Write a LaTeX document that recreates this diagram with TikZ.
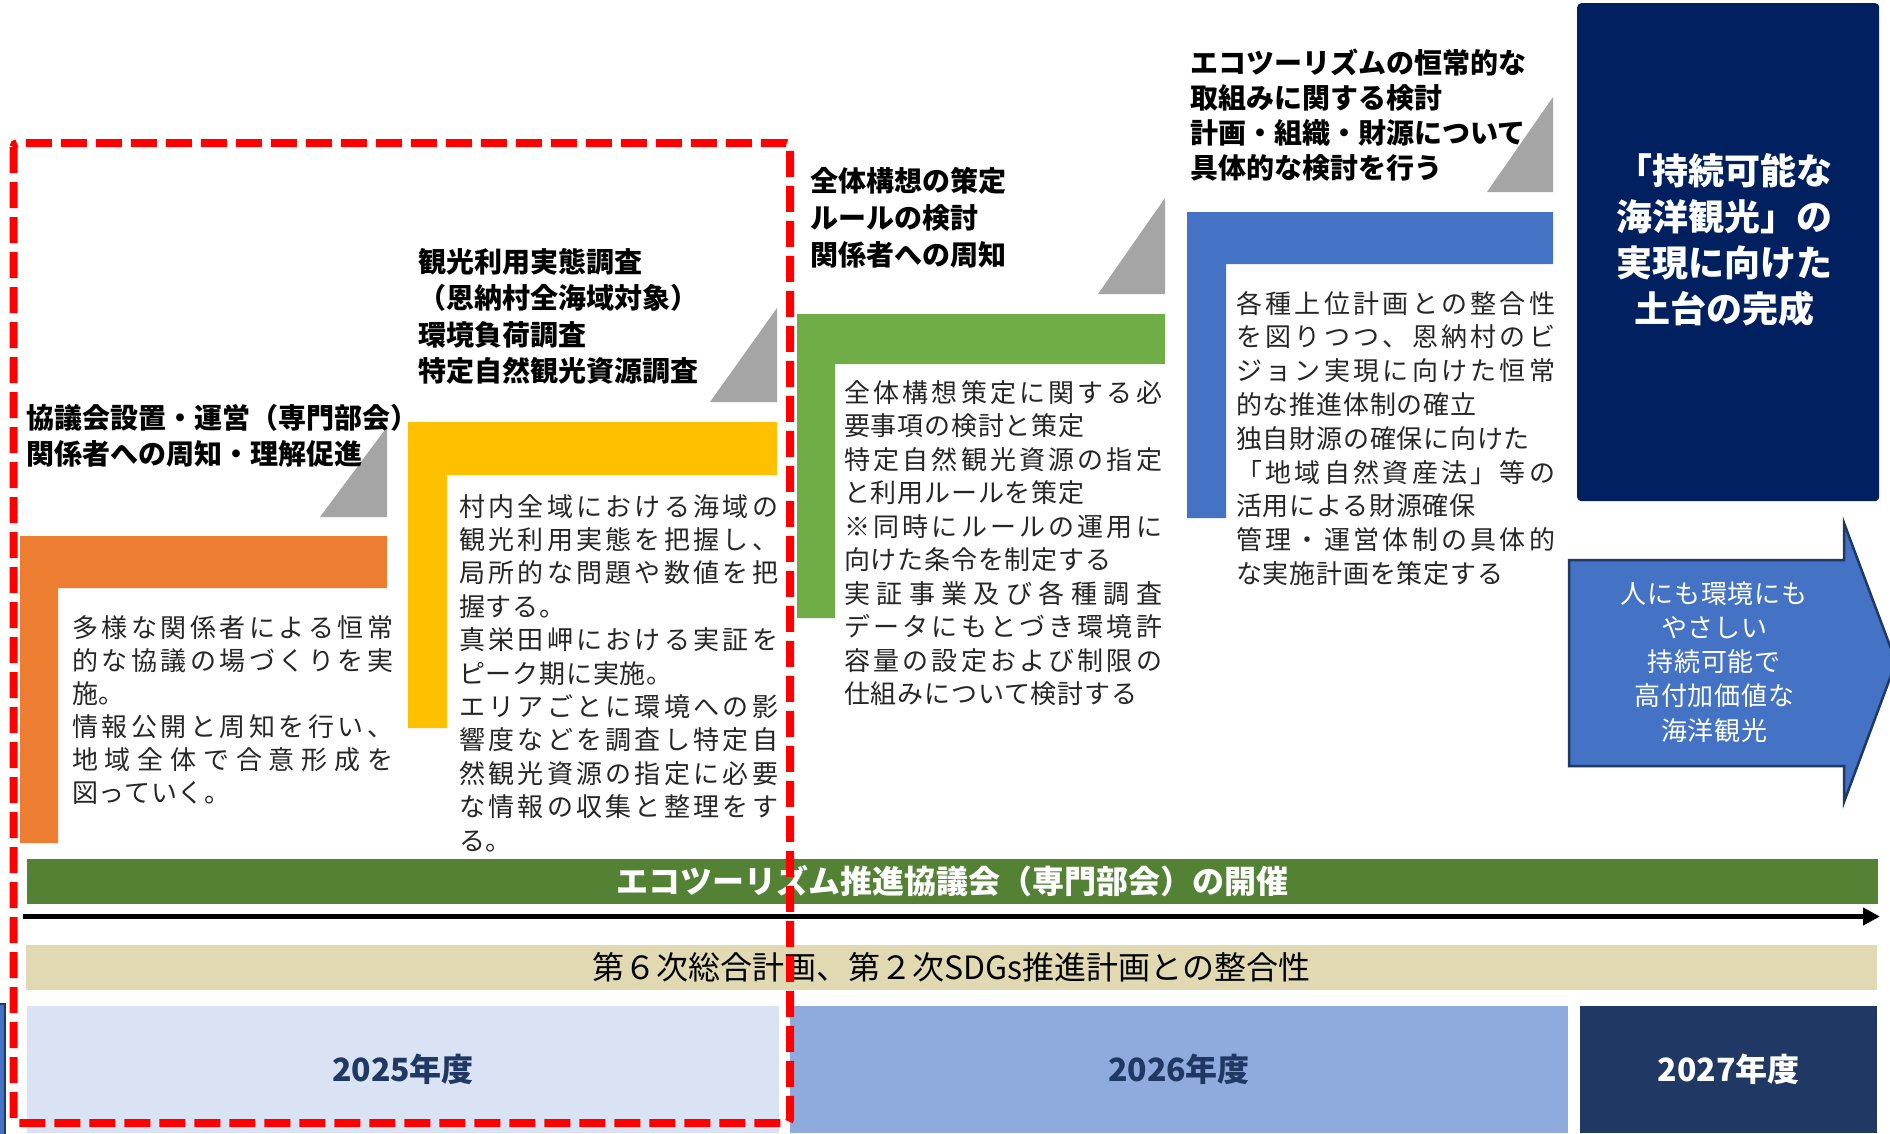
\documentclass[tikz,border=0pt]{standalone}
\usepackage{fontspec}
\newfontfamily\jp{Noto Sans CJK JP}
\newfontfamily\jpb[LetterSpace=3]{Noto Sans CJK JP}
\usetikzlibrary{arrows.meta}
\definecolor{cOrange}{HTML}{ED7D31}
\definecolor{cYellow}{HTML}{FFC000}
\definecolor{cGreenL}{HTML}{70AD47}
\definecolor{cBlueL}{HTML}{4472C4}
\definecolor{cTri}{HTML}{A5A5A5}
\definecolor{cNavy}{HTML}{002060}
\definecolor{cNavyLine}{HTML}{1F3864}
\definecolor{cBar}{HTML}{548235}
\definecolor{cBeige}{HTML}{E0D9B1}
\definecolor{cY25}{HTML}{DAE3F3}
\definecolor{cY26}{HTML}{8FAADC}
\definecolor{cY27}{HTML}{203864}
\definecolor{cBody}{HTML}{262626}
\definecolor{cRed}{HTML}{FF0000}
% justified line helpers
\let\JSend\relax
\def\JSp#1{\ifx\JSend#1\else\hskip 0pt plus 1fil\relax#1\expandafter\JSp\fi}
\def\JSfirst#1{#1\JSp}
\newdimen\jw
\newcommand\J[1]{\hbox to \jw{\JSfirst#1\JSend}}
\newcommand\N[1]{\hbox{#1}}
\newcommand\C[1]{\hbox to \jw{\hss#1\hss}}
\newcommand\blk[2]{\vtop{\baselineskip=#1\lineskiplimit=-1000pt\lineskip=0pt\relax#2}}
\begin{document}
\begin{tikzpicture}[x=1pt,y=-1pt,
  tri/.style={fill=cTri},
  titletext/.style={anchor=base west, inner sep=0pt, text=black, font=\jp\bfseries\fontsize{28pt}{36pt}\selectfont},
  bodytext/.style={anchor=base west, inner sep=0pt, text=cBody, font=\jpb\fontsize{26pt}{33.5pt}\selectfont},
  bar/.style={inner sep=0pt, minimum width=1851pt, minimum height=45pt},
  yearbox/.style={inner sep=0pt, minimum height=127pt, font=\jp\bfseries\fontsize{32pt}{36pt}\selectfont},
  reddash/.style={draw=cRed, line width=8pt, dash pattern=on 26pt off 9pt, rounded corners=4pt}
]
\clip (0,0) rectangle (1890,1133);
\fill[white] (0,0) rectangle (1890,1133);

% ---- L shapes ----
\fill[cOrange] (20,536) -- (387,536) -- (387,588) -- (58,588) -- (58,843) -- (20,843) -- cycle;
\fill[cYellow] (408,422) -- (777,422) -- (777,475) -- (447,475) -- (447,728) -- (408,728) -- cycle;
\fill[cGreenL] (797,314) -- (1165,314) -- (1165,364) -- (835,364) -- (835,618) -- (797,618) -- cycle;
\fill[cBlueL] (1187,212) -- (1553,212) -- (1553,264) -- (1226,264) -- (1226,518) -- (1187,518) -- cycle;

% ---- gray triangles ----
\fill[tri] (387,427) -- (387,517) -- (320,517) -- cycle;
\fill[tri] (777,308) -- (777,402) -- (710,402) -- cycle;
\fill[tri] (1165,198) -- (1165,294) -- (1098,294) -- cycle;
\fill[tri] (1553,97) -- (1553,192) -- (1487,192) -- cycle;

% ---- titles ----
\node[titletext] (t1) at (26,428) {\blk{36pt}{\N{協議会設置・運営（専門部会）}\N{関係者への周知・理解促進}}};
\node[titletext] (t2) at (418,272) {\blk{36.6pt}{\N{観光利用実態調査}\N{（恩納村全海域対象）}\N{環境負荷調査}\N{特定自然観光資源調査}}};
\node[titletext] (t3) at (810,191) {\blk{37pt}{\N{全体構想の策定}\N{ルールの検討}\N{関係者への周知}}};
\node[titletext] (t4) at (1190,73) {\blk{35pt}{\N{エコツーリズムの恒常的な}\N{取組みに関する検討}\N{計画・組織・財源について}\N{具体的な検討を行う}}};

% ---- body texts ----
\node[bodytext] (b1) at (72,637) {\jw=321pt\blk{33pt}{%
\J{多様な関係者による恒常}\J{的な協議の場づくりを実}\N{施。}%
\J{情報公開と周知を行い、}\J{地域全体で合意形成を}\N{図っていく。}}};
\node[bodytext] (b2) at (459,516) {\jw=319pt\blk{33.4pt}{%
\J{村内全域における海域の}\J{観光利用実態を把握し、}\J{局所的な問題や数値を把}\N{握する。}%
\J{真栄田岬における実証を}\N{ピーク期に実施。}%
\J{エリアごとに環境への影}\J{響度などを調査し特定自}\J{然観光資源の指定に必要}\J{な情報の収集と整理をす}\N{る。}}};
\node[bodytext] (b3) at (844,402) {\jw=318pt\blk{33.5pt}{%
\J{全体構想策定に関する必}\N{要事項の検討と策定}%
\J{特定自然観光資源の指定}\N{と利用ルールを策定}%
\J{※同時にルールの運用に}\N{向けた条令を制定する}%
\J{実証事業及び各種調査}\J{データにもとづき環境許}\J{容量の設定および制限の}\N{仕組みについて検討する}}};
\node[bodytext] (b4) at (1236,313) {\jw=319pt\blk{33.8pt}{%
\J{各種上位計画との整合性}\J{を図りつつ、恩納村のビ}\J{ジョン実現に向けた恒常}\N{的な推進体制の確立}%
\N{独自財源の確保に向けた}\J{「地域自然資産法」等の}\N{活用による財源確保}%
\J{管理・運営体制の具体的}\N{な実施計画を策定する}}};

% ---- goal box ----
\node[fill=cNavy, rounded corners=4pt, inner sep=0pt, minimum width=302pt, minimum height=498pt, anchor=north west] (goal) at (1577,3) {};
\node[anchor=base west, inner sep=0pt, text=white, font=\jp\bfseries\fontsize{36pt}{46pt}\selectfont] (goaltext) at (1574,184)
  {\jw=300pt\blk{46pt}{\C{「持続可能な}\C{海洋観光」の}\C{実現に向けた}\C{土台の完成}}};

% ---- outcome arrow ----
\draw[fill=cBlueL, draw=cNavyLine, line width=2.5pt, line join=miter]
  (1569,560) -- (1844,560) -- (1844,523) -- (1896,662) -- (1844,802) -- (1844,766) -- (1569,766) -- cycle;
\node[anchor=base west, inner sep=0pt, text=white, font=\jpb\fontsize{26pt}{34pt}\selectfont] (arrowtext) at (1584,603)
  {\jw=260pt\blk{34.3pt}{\C{人にも環境にも}\C{やさしい}\C{持続可能で}\C{高付加価値な}\C{海洋観光}}};

% ---- bottom bars ----
\node[bar, fill=cBar, text=white, font=\jp\bfseries\fontsize{32pt}{36pt}\selectfont] (council) at (952.5,881.5) {エコツーリズム推進協議会（専門部会）の開催};
\coordinate (tlS) at (23,916.5);
\coordinate (tlE) at (1880,916.5);
\draw[line width=5pt, -{Triangle[length=17pt,width=17pt]}] (tlS) -- (tlE);
\node[bar, fill=cBeige, text=black, font=\jp\fontsize{32pt}{36pt}\selectfont] (plan) at (951.5,967.5) {第６次総合計画、第２次SDGs推進計画との整合性};

% ---- year boxes ----
\fill[cBlueL, draw=cNavyLine, line width=2pt] (-10,1004) rectangle (5,1145);
\node[yearbox, fill=cY25, minimum width=752pt, text=cNavyLine] (y25) at (403,1069.5) {2025年度};
\node[yearbox, fill=cY26, minimum width=778pt, text=cNavyLine] (y26) at (1179,1069.5) {2026年度};
\node[yearbox, fill=cY27, minimum width=297pt, text=white] (y27) at (1728.5,1069.5) {2027年度};

% ---- red dashed frame ----
\draw[reddash] (13.5,143) rectangle (790,1123);
\end{tikzpicture}
\end{document}
